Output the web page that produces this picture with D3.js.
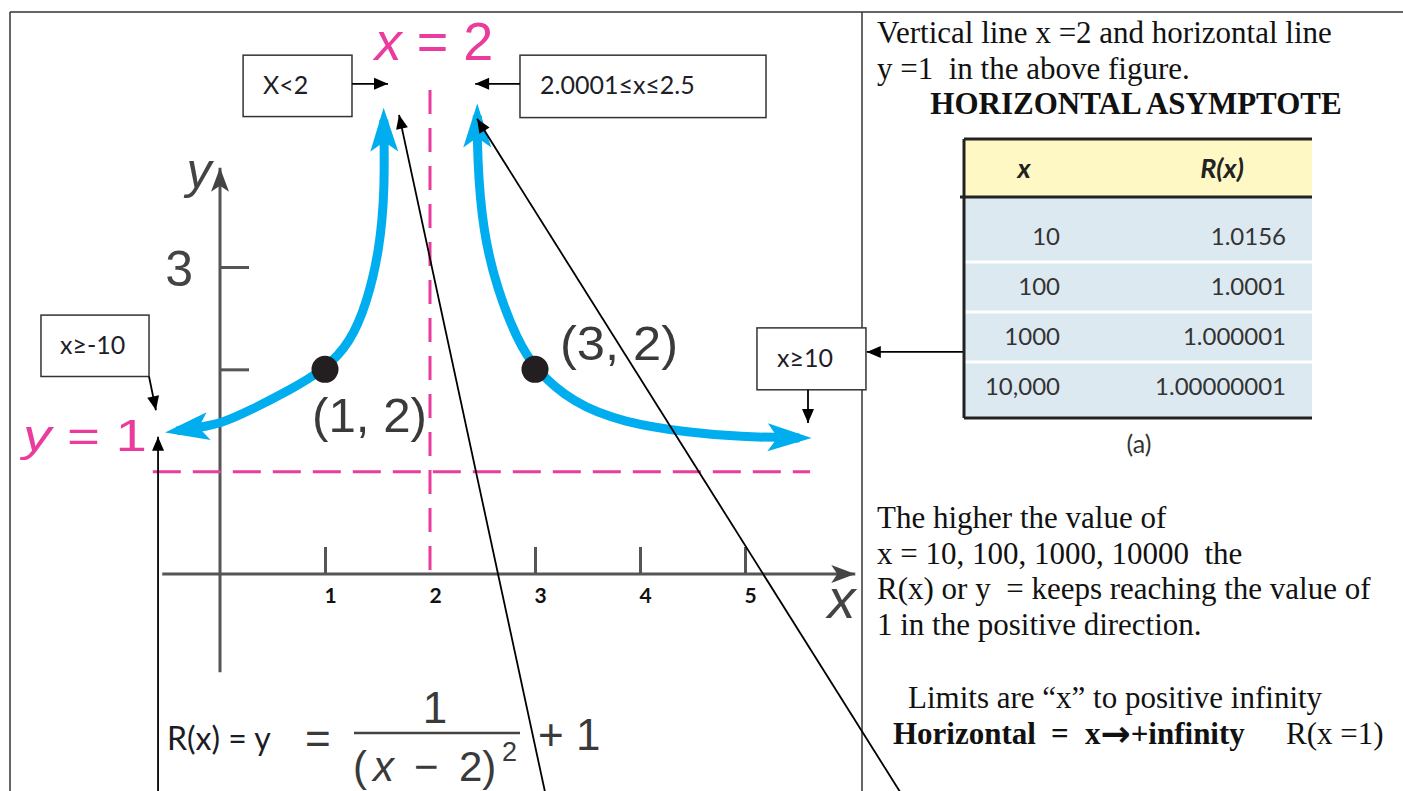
<!DOCTYPE html>
<html>
<head>
<meta charset="utf-8">
<script src="https://cdn.jsdelivr.net/npm/d3@7"></script>
<style>
  body { margin: 0; background: #fff; }
  svg { display: block; }
  text { white-space: pre; }
</style>
</head>
<body>
<svg id="chart"></svg>
<script>
// ---- values ----
const xTicks = [1, 2, 3, 4, 5];
const yTicks = [2, 3];
const yTickLabels = {3: '3'};

// blue curve, branch left of the asymptote
const leftX = [-0.41, -0.21, 0.01, 0.29, 0.67, 1.0, 1.24, 1.40, 1.52, 1.57, 1.56];
const leftY = [1.40, 1.43, 1.47, 1.60, 1.80, 2.0, 2.26, 2.65, 3.17, 3.75, 4.44];
// blue curve, branch right of the asymptote
const rightX = [2.45, 2.45, 2.50, 2.64, 2.83, 3.0, 3.36, 3.84, 4.48, 4.95, 5.52];
const rightY = [4.48, 4.08, 3.36, 2.78, 2.29, 2.0, 1.67, 1.48, 1.38, 1.34, 1.33];

const pointX = [1, 3];
const pointY = [2, 2];
const pointLabels = ['(1, 2)', '(3, 2)'];

const vAsymptote = 2;
const hAsymptote = 1;

const tableX = ['10', '100', '1000', '10,000'];
const tableR = ['1.0156', '1.0001', '1.000001', '1.00000001'];

// callout boxes (data coords: x0, x1, yTop, yBottom)
const calloutText = ['X<2', '2.0001≤x≤2.5', 'x≥-10', 'x≥10'];
const calloutBox = [[0.22, 1.257, 5.07, 4.47], [2.857, 5.2, 5.07, 4.46],
                    [-1.705, -0.676, 2.53, 1.93], [5.114, 6.152, 2.405, 1.80]];
// pointer arrows (data coords: from -> to)
const pointers = [
  [[1.257, 4.79], [1.60, 4.79]],
  [[2.857, 4.79], [2.43, 4.79]],
  [[-0.676, 1.93], [-0.61, 1.60]],
  [[5.60, 1.80], [5.60, 1.476]],
  [[-0.59, -2.2], [-0.59, 1.34]],
  [[3.11, -2.2], [1.705, 4.487]],
  [[6.52, -2.2], [2.448, 4.448]],
  [[7.16, 2.17], [6.16, 2.17]]
];

const noteTop = ['Vertical line x =2 and horizontal line', 'y =1  in the above figure.'];
const noteHeading = 'HORIZONTAL ASYMPTOTE';
const noteBottom = ['The higher the value of', 'x = 10, 100, 1000, 10000  the',
                    'R(x) or y  = keeps reaching the value of', '1 in the positive direction.'];
const noteLimits = 'Limits are \u201cx\u201d to positive infinity';

// ---- layout ----
const W = 1403, H = 791;
const MAGENTA = '#ea3c9c', BLUE = '#00aeef', AXIS = '#555', INK = '#3a3a3a';

const svg = d3.select('#chart').attr('width', W).attr('height', H);

const x = d3.scaleLinear().domain([0, 5]).range([220, 745]);
const y = d3.scaleLinear().domain([0, 3]).range([574, 267]);

// markers
const defs = svg.append('defs');
defs.append('marker').attr('id', 'blueHead')
    .attr('markerUnits', 'userSpaceOnUse')
    .attr('viewBox', '-50 -20 70 40').attr('markerWidth', 70).attr('markerHeight', 40)
    .attr('refX', -12).attr('refY', 0).attr('orient', 'auto-start-reverse')
  .append('path').attr('d', 'M0,0 L-44,-14 L-34,0 L-44,14 Z').attr('fill', BLUE);
defs.append('marker').attr('id', 'grayHead')
    .attr('markerUnits', 'userSpaceOnUse')
    .attr('viewBox', '-30 -12 34 24').attr('markerWidth', 34).attr('markerHeight', 24)
    .attr('refX', 0).attr('refY', 0).attr('orient', 'auto')
  .append('path').attr('d', 'M0,0 L-24,-9 L-18,0 L-24,9 Z').attr('fill', '#444');
defs.append('marker').attr('id', 'blackHead')
    .attr('markerUnits', 'userSpaceOnUse')
    .attr('viewBox', '-16 -8 18 16').attr('markerWidth', 18).attr('markerHeight', 16)
    .attr('refX', 0).attr('refY', 0).attr('orient', 'auto')
  .append('path').attr('d', 'M0,0 L-14,-6 L-14,6 Z').attr('fill', '#000');

// frame
const frame = svg.append('g').attr('stroke', '#333').attr('stroke-width', 1.5);
frame.append('line').attr('x1', 10).attr('x2', W).attr('y1', 12).attr('y2', 12);
frame.append('line').attr('x1', 10).attr('x2', 10).attr('y1', 12).attr('y2', H);
frame.append('line').attr('x1', 862).attr('x2', 862).attr('y1', 12).attr('y2', H);

// ---- graph ----
const chart = svg.append('g');

// tick marks and labels
const xAxisG = chart.append('g').attr('transform', `translate(0,${y(0)})`)
    .call(d3.axisBottom(x).tickValues(xTicks).tickSize(-27).tickPadding(14).tickFormat(d3.format('d')));
xAxisG.select('.domain').remove();
xAxisG.selectAll('.tick line').attr('stroke', AXIS).attr('stroke-width', 3)
    .filter(d => d === vAsymptote).remove();
xAxisG.selectAll('.tick text').attr('dx', 5).attr('fill', '#111')
    .attr('font-family', 'Lato, "Open Sans", sans-serif').attr('font-weight', 'bold').attr('font-size', 21);

const yAxisG = chart.append('g').attr('transform', `translate(${x(0)},0)`)
    .call(d3.axisLeft(y).tickValues(yTicks).tickSize(-29).tickPadding(27).tickFormat(d => yTickLabels[d] || ''));
yAxisG.select('.domain').remove();
yAxisG.selectAll('.tick line').attr('stroke', AXIS).attr('stroke-width', 3);
yAxisG.selectAll('.tick text').attr('dy', '0.36em').attr('fill', '#444')
    .attr('font-family', '"Liberation Sans", Arial, sans-serif').attr('font-size', 50);

// axis lines
chart.append('line')
    .attr('x1', x(-0.55)).attr('x2', x(6.05)).attr('y1', y(0)).attr('y2', y(0))
    .attr('stroke', AXIS).attr('stroke-width', 3).attr('marker-end', 'url(#grayHead)');
chart.append('line')
    .attr('x1', x(0)).attr('x2', x(0)).attr('y1', y(-0.96)).attr('y2', y(3.97))
    .attr('stroke', AXIS).attr('stroke-width', 3).attr('marker-end', 'url(#grayHead)');

chart.append('text').attr('x', x(5.92)).attr('y', 618).attr('text-anchor', 'middle')
    .attr('font-family', '"Liberation Sans", Arial, sans-serif').attr('font-style', 'italic')
    .attr('font-size', 56).attr('fill', '#444').text('x');
chart.append('text').attr('x', x(-0.08)).attr('y', 188).attr('text-anchor', 'end')
    .attr('font-family', '"Liberation Sans", Arial, sans-serif').attr('font-style', 'italic')
    .attr('font-size', 50).attr('fill', '#444').text('y');

// asymptotes
chart.append('line')
    .attr('x1', x(vAsymptote)).attr('x2', x(vAsymptote)).attr('y1', y(4.73)).attr('y2', y(0))
    .attr('stroke', MAGENTA).attr('stroke-width', 3).attr('stroke-dasharray', '24,14');
chart.append('line')
    .attr('x1', x(-0.64)).attr('x2', x(5.62)).attr('y1', y(hAsymptote)).attr('y2', y(hAsymptote))
    .attr('stroke', MAGENTA).attr('stroke-width', 3).attr('stroke-dasharray', '28,12');

const asyFont = '"Liberation Sans", Arial, sans-serif';
const xLbl = chart.append('text').attr('x', x(vAsymptote) + 4).attr('y', 60).attr('text-anchor', 'middle')
    .attr('font-family', asyFont).attr('font-size', 54).attr('fill', MAGENTA);
xLbl.append('tspan').attr('font-style', 'italic').text('x');
xLbl.append('tspan').text(' = ' + vAsymptote);
const yLbl = chart.append('text').attr('x', 23).attr('y', 451)
    .attr('textLength', 124).attr('lengthAdjust', 'spacingAndGlyphs')
    .attr('font-family', asyFont).attr('font-size', 45).attr('fill', MAGENTA);
yLbl.append('tspan').attr('font-style', 'italic').text('y');
yLbl.append('tspan').text(' = ' + hAsymptote);

// curve branches
const line = d3.line().x(d => x(d[0])).y(d => y(d[1])).curve(d3.curveBasis);
const branches = [d3.zip(leftX, leftY), d3.zip(rightX, rightY)];
chart.selectAll('.branch').data(branches).join('path')
    .attr('class', 'branch')
    .attr('d', line)
    .attr('fill', 'none').attr('stroke', BLUE).attr('stroke-width', 9)
    .attr('marker-start', 'url(#blueHead)').attr('marker-end', 'url(#blueHead)');

// key points
chart.selectAll('.pt').data(d3.zip(pointX, pointY)).join('circle')
    .attr('class', 'pt')
    .attr('cx', d => x(d[0])).attr('cy', d => y(d[1])).attr('r', 13.5).attr('fill', '#231f20');
const ptOffsets = [[-13, 63], [25, -9]];
chart.selectAll('.ptLabel').data(d3.zip(pointX, pointY, pointLabels, ptOffsets)).join('text')
    .attr('class', 'ptLabel')
    .attr('x', d => x(d[0]) + d[3][0]).attr('y', d => y(d[1]) + d[3][1])
    .attr('textLength', (d, i) => [115, 118][i]).attr('lengthAdjust', 'spacingAndGlyphs')
    .attr('font-family', asyFont).attr('font-size', 48).attr('fill', INK)
    .text(d => d[2]);

// callouts
const boxes = chart.selectAll('.callout').data(d3.zip(calloutText, calloutBox)).join('g').attr('class', 'callout');
boxes.append('rect')
    .attr('x', d => x(d[1][0])).attr('y', d => y(d[1][2]))
    .attr('width', d => x(d[1][1]) - x(d[1][0])).attr('height', d => y(d[1][3]) - y(d[1][2]))
    .attr('fill', '#fff').attr('stroke', '#333').attr('stroke-width', 1.5);
const boxPad = [20, 20, 19, 20];
boxes.append('text')
    .attr('x', (d, i) => x(d[1][0]) + boxPad[i])
    .attr('y', d => (y(d[1][2]) + y(d[1][3])) / 2 + 8)
    .attr('font-family', 'Lato, "Open Sans", sans-serif').attr('font-size', 25).attr('fill', '#1e1e28')
    .text(d => d[0]);

svg.selectAll('.pointer').data(pointers).join('line')
    .attr('class', 'pointer')
    .attr('x1', d => x(d[0][0])).attr('y1', d => y(d[0][1]))
    .attr('x2', d => x(d[1][0])).attr('y2', d => y(d[1][1]))
    .attr('stroke', '#000').attr('stroke-width', 1.8).attr('marker-end', 'url(#blackHead)');

// formula
const formula = svg.append('g').attr('fill', INK);
formula.append('text').attr('x', 167).attr('y', 750)
    .attr('font-family', 'Lato, "Open Sans", sans-serif').attr('font-size', 32).attr('fill', '#1c1c24')
    .text('R(x) = y');
formula.append('text').attr('x', 305).attr('y', 754)
    .attr('font-family', asyFont).attr('font-size', 44).text('=');
formula.append('line').attr('x1', 354).attr('x2', 520).attr('y1', 733).attr('y2', 733)
    .attr('stroke', '#444').attr('stroke-width', 2.5);
formula.append('text').attr('x', 435).attr('y', 723).attr('text-anchor', 'middle')
    .attr('font-family', asyFont).attr('font-size', 44).text('1');
const den = formula.append('text').attr('y', 781)
    .attr('font-family', asyFont).attr('font-size', 42);
den.append('tspan').attr('x', 353).text('(');
den.append('tspan').attr('x', 373).attr('font-style', 'italic').text('x');
den.append('tspan').attr('x', 414).text('\u2212');
den.append('tspan').attr('x', 459).text('2)');
formula.append('text').attr('x', 502).attr('y', 761)
    .attr('font-family', asyFont).attr('font-size', 27).text('2');
formula.append('text').attr('x', 538).attr('y', 750)
    .attr('font-family', asyFont).attr('font-size', 44).text('+ 1');

// ---- right column notes ----
const serif = '"Liberation Serif", "Times New Roman", serif';
const notes = svg.append('g').attr('font-family', serif).attr('font-size', 31).attr('fill', '#111');
notes.selectAll('.top').data(noteTop).join('text')
    .attr('x', 877).attr('y', (d, i) => 43 + i * 36).text(d => d);
notes.append('text').attr('x', 1136).attr('y', 114).attr('text-anchor', 'middle')
    .attr('font-weight', 'bold').text(noteHeading);
notes.selectAll('.bottom').data(noteBottom).join('text')
    .attr('x', 877).attr('y', (d, i) => 528 + i * 35.7).text(d => d);
notes.append('text').attr('x', 908).attr('y', 708).text(noteLimits);
const last = notes.append('text').attr('y', 744);
last.append('tspan').attr('x', 893).attr('font-weight', 'bold').text('Horizontal');
last.append('tspan').attr('x', 1051).attr('font-weight', 'bold').text('=');
last.append('tspan').attr('x', 1085).attr('font-weight', 'bold').text('x');
last.append('tspan').attr('font-family', '"DejaVu Sans", sans-serif').attr('font-weight', 'bold')
    .attr('font-size', 36).attr('dy', 2).text('\u2192');
last.append('tspan').attr('font-weight', 'bold').attr('dy', -2).text('+infinity');
last.append('tspan').attr('x', 1286).text('R(x =1)');

// ---- table ----
const tL = 964, tR = 1312, tTop = 139, tHead = 197, tBot = 418;
const colX = 1060, colR = 1286;
const rows = d3.scaleBand().domain(tableX).range([212, 412]);
const table = svg.append('g');
table.append('rect').attr('x', tL).attr('y', tTop).attr('width', tR - tL).attr('height', tHead - tTop).attr('fill', '#fdf8c4');
table.append('rect').attr('x', tL).attr('y', tHead).attr('width', tR - tL).attr('height', tBot - tHead).attr('fill', '#dce9f1');
table.selectAll('.sep').data(tableX.slice(1)).join('line')
    .attr('class', 'sep')
    .attr('x1', tL).attr('x2', tR).attr('y1', d => rows(d)).attr('y2', d => rows(d))
    .attr('stroke', '#fff').attr('stroke-width', 3);
const tableLines = table.append('g').attr('stroke', '#222').attr('stroke-width', 3);
tableLines.append('line').attr('x1', tL).attr('x2', tR).attr('y1', tTop).attr('y2', tTop);
tableLines.append('line').attr('x1', tL - 4).attr('x2', tR).attr('y1', tHead).attr('y2', tHead);
tableLines.append('line').attr('x1', tL).attr('x2', tR).attr('y1', tBot).attr('y2', tBot);
tableLines.append('line').attr('x1', tL).attr('x2', tL).attr('y1', tTop).attr('y2', tBot);

const tFont = 'Lato, "Open Sans", sans-serif';
table.append('text').attr('x', 1024).attr('y', 178).attr('text-anchor', 'middle')
    .attr('font-family', tFont).attr('font-size', 27).attr('font-weight', 'bold').attr('font-style', 'italic')
    .attr('fill', '#222').text('x');
table.append('text').attr('x', 1222).attr('y', 178).attr('text-anchor', 'middle')
    .attr('font-family', tFont).attr('font-size', 27).attr('font-weight', 'bold').attr('font-style', 'italic')
    .attr('fill', '#222').text('R(x)');
table.selectAll('.cx').data(tableX).join('text')
    .attr('class', 'cx')
    .attr('x', colX).attr('y', d => rows(d) + 33).attr('text-anchor', 'end')
    .attr('font-family', tFont).attr('font-size', 24).attr('fill', '#333').text(d => d);
table.selectAll('.cr').data(d3.zip(tableX, tableR)).join('text')
    .attr('class', 'cr')
    .attr('x', colR).attr('y', d => rows(d[0]) + 33).attr('text-anchor', 'end')
    .attr('font-family', tFont).attr('font-size', 24).attr('fill', '#333').text(d => d[1]);
table.append('text').attr('x', 1139).attr('y', 453).attr('text-anchor', 'middle')
    .attr('font-family', tFont).attr('font-size', 25).attr('fill', '#333').text('(a)');
</script>
</body>
</html>
